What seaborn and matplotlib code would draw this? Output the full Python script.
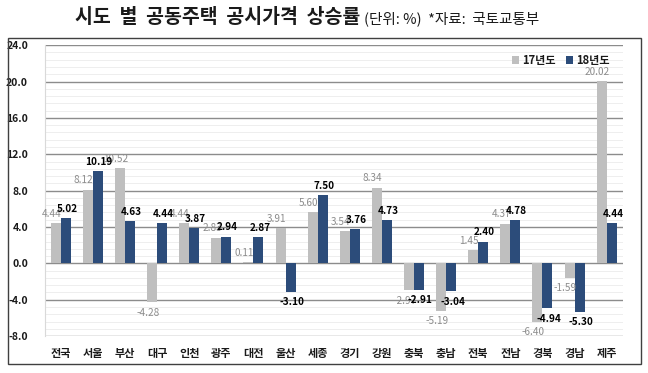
import numpy as np
import pandas as pd
import matplotlib
matplotlib.use("Agg")
import matplotlib.pyplot as plt
import seaborn as sns
from matplotlib.patches import Rectangle

regions = ["전국", "서울", "부산", "대구", "인천", "광주", "대전", "울산", "세종",
           "경기", "강원", "충북", "충남", "전북", "전남", "경북", "경남", "제주"]
vals_17 = [4.44, 8.12, 10.52, -4.28, 4.44, 2.83, 0.11, 3.91, 5.60,
           3.54, 8.34, -2.97, -5.19, 1.45, 4.37, -6.40, -1.59, 20.02]
vals_18 = [5.02, 10.19, 4.63, 4.44, 3.87, 2.94, 2.87, -3.10, 7.50,
           3.76, 4.73, -2.91, -3.04, 2.40, 4.78, -4.94, -5.30, 4.44]
series = ["17년도", "18년도"]
yticks = [-8, -4, 0, 4, 8, 12, 16, 20, 24]

sns.set_theme(style="white")
plt.rcParams['font.family'] = ['Noto Sans CJK KR', 'DejaVu Sans']
plt.rcParams['axes.unicode_minus'] = False

df = pd.DataFrame({
    "region": regions * 2,
    "value": vals_17 + vals_18,
    "year": [series[0]] * len(regions) + [series[1]] * len(regions),
})

fig = plt.figure(figsize=(6.48, 3.73), dpi=100)
ax = fig.add_axes([0.069, 0.099, 0.892, 0.780])

# outer frame
fig.patches.append(Rectangle((0.0123, 0.024), 0.977, 0.874, transform=fig.transFigure,
                             fill=False, edgecolor="#404040", linewidth=1.0))

# gridlines
for y in np.arange(-8, 24.01, 0.8):
    ax.axhline(y, color="#ebebeb", linewidth=0.6, zorder=0)
for y in yticks:
    ax.axhline(y, color="#8c8c8c", linewidth=1.0, zorder=0.5)

sns.barplot(data=df, x="region", y="value", hue="year", hue_order=series,
            order=regions, palette=["#bfbfbf", "#1f4a87"], width=0.62,
            edgecolor="none", linewidth=0, ax=ax, zorder=2)

ax.set_ylim(-8, 24)
ax.set_xlim(-0.5, len(regions) - 0.5)
ax.set_yticks(yticks)
ax.set_yticklabels([f"{t:.1f}" for t in yticks], fontsize=7.5, fontweight="bold", color="#1a1a1a")
ax.set_xticks(range(len(regions)))
ax.set_xticklabels(regions, fontsize=8, fontweight="bold", color="#1a1a1a")
ax.tick_params(axis="x", length=0, pad=8)
ax.tick_params(axis="y", length=0, pad=12)
ax.set_xlabel("")
ax.set_ylabel("")
for s in ["top", "right", "bottom"]:
    ax.spines[s].set_visible(False)
ax.spines["left"].set_color("#d9d9d9")
ax.spines["left"].set_linewidth(0.8)

# data labels
containers = ax.containers
for cont, vals, color, weight, dx in [
        (containers[0], vals_17, "#8c8c8c", "normal", -3),
        (containers[1], vals_18, "#000000", "bold", 1)]:
    for bar, v in zip(cont, vals):
        x = bar.get_x() + bar.get_width() / 2
        ax.annotate(f"{v:.2f}", (x, v), xytext=(dx, 3 if v >= 0 else -4),
                    textcoords="offset points", ha="center",
                    va="bottom" if v >= 0 else "top",
                    fontsize=7.2, color=color, fontweight=weight, zorder=5)

leg = ax.legend(loc="upper right", bbox_to_anchor=(0.985, 0.985), borderaxespad=0,
                frameon=False, fontsize=8, handlelength=0.6, handleheight=0.6,
                handletextpad=0.3, ncol=2, columnspacing=0.9)
for t in leg.get_texts():
    t.set_fontweight("bold")
    t.set_color("#1a1a1a")

fig.text(0.116, 0.952, "시도  별  공동주택  공시가격  상승률", ha="left", va="center",
         fontsize=14, fontweight="bold", color="#1a1a1a")
fig.text(0.562, 0.949, "(단위: %)  *자료:  국토교통부", ha="left", va="center",
         fontsize=10.5, color="#1a1a1a")

fig.savefig("out.png", dpi=100)
